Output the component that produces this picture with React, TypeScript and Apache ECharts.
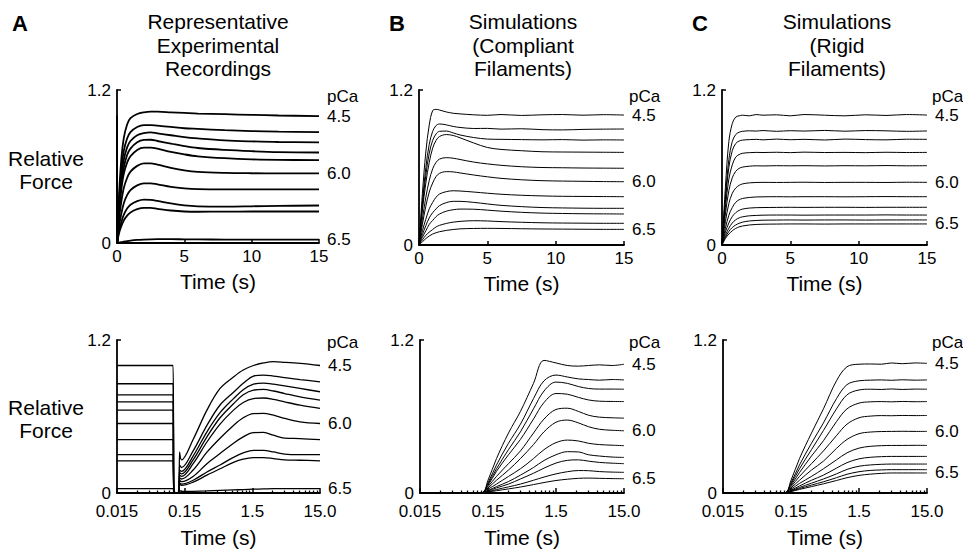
import React, { useEffect, useRef } from "react";
import * as echarts from "echarts";

const FONT = '"Liberation Sans", Arial, Helvetica, sans-serif';

// ---------- Top row: linear time (s) ----------
const T_A_TOP = [0, 0.04, 0.12, 0.3, 0.5, 0.75, 1, 1.5, 2, 2.5, 3, 4, 5, 6, 8, 10, 12, 15];
const A_TOP: number[][] = [
  [1.0, 0.02, 0.3, 0.63, 0.82, 0.93, 0.98, 1.012, 1.025, 1.03, 1.03, 1.025, 1.02, 1.015, 1.01, 1.005, 1.0, 0.995],
  [0.87, 0.02, 0.26, 0.54, 0.72, 0.82, 0.87, 0.91, 0.925, 0.925, 0.92, 0.91, 0.9, 0.895, 0.885, 0.878, 0.873, 0.869],
  [0.79, 0.02, 0.24, 0.49, 0.65, 0.75, 0.8, 0.845, 0.862, 0.867, 0.86, 0.845, 0.83, 0.82, 0.805, 0.797, 0.792, 0.79],
  [0.71, 0.02, 0.22, 0.44, 0.59, 0.69, 0.74, 0.79, 0.808, 0.81, 0.8, 0.78, 0.76, 0.745, 0.73, 0.72, 0.713, 0.71],
  [0.65, 0.02, 0.2, 0.4, 0.54, 0.63, 0.68, 0.73, 0.748, 0.748, 0.74, 0.715, 0.695, 0.68, 0.665, 0.656, 0.652, 0.65],
  [0.545, 0.01, 0.16, 0.31, 0.43, 0.51, 0.56, 0.605, 0.625, 0.625, 0.615, 0.59, 0.57, 0.558, 0.55, 0.547, 0.546, 0.546],
  [0.42, 0.01, 0.11, 0.22, 0.31, 0.375, 0.415, 0.452, 0.468, 0.468, 0.46, 0.44, 0.428, 0.422, 0.42, 0.42, 0.42, 0.42],
  [0.3, 0.01, 0.08, 0.155, 0.22, 0.27, 0.3, 0.328, 0.34, 0.338, 0.33, 0.31, 0.295, 0.288, 0.286, 0.288, 0.291, 0.294],
  [0.25, 0.01, 0.065, 0.125, 0.175, 0.215, 0.24, 0.265, 0.275, 0.275, 0.268, 0.255, 0.247, 0.245, 0.246, 0.247, 0.247, 0.247],
  [0.03, 0, 0.002, 0.006, 0.01, 0.015, 0.019, 0.024, 0.027, 0.029, 0.03, 0.03, 0.029, 0.028, 0.027, 0.027, 0.026, 0.026],
];

const T_SIM_TOP = [0, 0.25, 0.5, 0.75, 1, 1.25, 1.5, 2, 2.5, 3, 4, 5, 6, 7.5, 9, 10.5, 12, 13.5, 15];
const B_TOP: number[][] = [
  [0, 0.4, 0.72, 0.93, 1.04, 1.05, 1.045, 1.03, 1.02, 1.015, 1.008, 1.004, 1.01, 1.003, 1.008, 1.01, 1.005, 1.009, 1.006],
  [0, 0.33, 0.6, 0.78, 0.88, 0.925, 0.937, 0.93, 0.918, 0.91, 0.902, 0.903, 0.897, 0.9, 0.893, 0.891, 0.895, 0.897, 0.898],
  [0, 0.3, 0.54, 0.71, 0.81, 0.86, 0.88, 0.882, 0.868, 0.852, 0.832, 0.82, 0.818, 0.816, 0.814, 0.816, 0.812, 0.814, 0.813],
  [0, 0.27, 0.48, 0.64, 0.75, 0.81, 0.84, 0.855, 0.848, 0.83, 0.79, 0.755, 0.74, 0.73, 0.722, 0.72, 0.719, 0.718, 0.717],
  [0, 0.2, 0.37, 0.5, 0.59, 0.64, 0.665, 0.676, 0.672, 0.662, 0.642, 0.628, 0.617, 0.606, 0.6, 0.598, 0.596, 0.595, 0.594],
  [0, 0.16, 0.3, 0.41, 0.48, 0.53, 0.555, 0.568, 0.566, 0.558, 0.542, 0.528, 0.516, 0.505, 0.498, 0.495, 0.493, 0.491, 0.49],
  [0, 0.11, 0.2, 0.28, 0.33, 0.37, 0.395, 0.413, 0.42, 0.418, 0.41, 0.401, 0.393, 0.385, 0.38, 0.377, 0.376, 0.375, 0.374],
  [0, 0.08, 0.15, 0.21, 0.25, 0.28, 0.305, 0.328, 0.338, 0.338, 0.33, 0.318, 0.307, 0.297, 0.29, 0.287, 0.285, 0.284, 0.284],
  [0, 0.06, 0.11, 0.16, 0.19, 0.22, 0.24, 0.262, 0.273, 0.278, 0.277, 0.27, 0.262, 0.253, 0.247, 0.244, 0.242, 0.241, 0.24],
  [0, 0.04, 0.075, 0.1, 0.12, 0.14, 0.152, 0.167, 0.177, 0.183, 0.188, 0.186, 0.181, 0.176, 0.172, 0.17, 0.169, 0.168, 0.168],
  [0, 0.025, 0.05, 0.07, 0.085, 0.095, 0.103, 0.113, 0.12, 0.125, 0.128, 0.129, 0.128, 0.126, 0.124, 0.123, 0.122, 0.121, 0.121],
];
const C_TOP: number[][] = [
  [0, 0.45, 0.8, 0.94, 0.99, 1.0, 1.005, 1.0, 1.01, 1.005, 1.008, 1.0, 1.01, 1.005, 1.0, 1.008, 1.003, 1.01, 1.006],
  [0, 0.37, 0.66, 0.8, 0.855, 0.873, 0.88, 0.884, 0.882, 0.886, 0.88, 0.885, 0.882, 0.887, 0.881, 0.886, 0.884, 0.88, 0.883],
  [0, 0.34, 0.6, 0.73, 0.785, 0.805, 0.812, 0.816, 0.818, 0.814, 0.82, 0.815, 0.818, 0.813, 0.82, 0.816, 0.814, 0.819, 0.818],
  [0, 0.29, 0.51, 0.62, 0.68, 0.7, 0.71, 0.715, 0.717, 0.716, 0.718, 0.715, 0.719, 0.716, 0.717, 0.715, 0.718, 0.716, 0.717],
  [0, 0.24, 0.42, 0.52, 0.57, 0.593, 0.603, 0.61, 0.613, 0.612, 0.614, 0.613, 0.614, 0.612, 0.614, 0.613, 0.615, 0.613, 0.614],
  [0, 0.18, 0.32, 0.4, 0.44, 0.462, 0.473, 0.481, 0.484, 0.485, 0.484, 0.485, 0.486, 0.484, 0.485, 0.485, 0.484, 0.486, 0.485],
  [0, 0.13, 0.23, 0.29, 0.33, 0.35, 0.36, 0.368, 0.372, 0.373, 0.374, 0.373, 0.374, 0.374, 0.373, 0.374, 0.375, 0.374, 0.374],
  [0, 0.1, 0.17, 0.22, 0.25, 0.268, 0.278, 0.286, 0.289, 0.29, 0.291, 0.292, 0.291, 0.292, 0.292, 0.291, 0.292, 0.292, 0.292],
  [0, 0.075, 0.13, 0.17, 0.195, 0.21, 0.218, 0.226, 0.229, 0.231, 0.232, 0.232, 0.231, 0.232, 0.232, 0.232, 0.233, 0.232, 0.232],
  [0, 0.06, 0.105, 0.135, 0.155, 0.168, 0.177, 0.186, 0.19, 0.192, 0.193, 0.194, 0.193, 0.194, 0.194, 0.193, 0.194, 0.194, 0.194],
  [0, 0.05, 0.085, 0.11, 0.128, 0.14, 0.147, 0.155, 0.159, 0.161, 0.162, 0.163, 0.163, 0.162, 0.163, 0.163, 0.163, 0.163, 0.163],
];

// ---------- Bottom row: log time (s) ----------
const T_A_BOT = [0.015, 0.101, 0.104, 0.124, 0.126, 0.135, 0.2, 0.32, 0.5, 0.79, 1.1, 1.56, 2.2, 3.08, 4.5, 7.6, 15];
const A_BOT: number[][] = [
  [1.0, 1.0, 0, 0, 0.32, 0.26, 0.42, 0.65, 0.82, 0.91, 0.965, 1.0, 1.02, 1.03, 1.025, 1.016, 1.0],
  [0.857, 0.857, 0, 0, 0.22, 0.2, 0.33, 0.53, 0.69, 0.79, 0.86, 0.917, 0.925, 0.917, 0.905, 0.89, 0.872],
  [0.77, 0.77, 0, 0, 0.18, 0.17, 0.29, 0.48, 0.63, 0.74, 0.81, 0.854, 0.862, 0.854, 0.84, 0.82, 0.794],
  [0.715, 0.715, 0, 0, 0.16, 0.15, 0.26, 0.44, 0.59, 0.7, 0.77, 0.807, 0.812, 0.8, 0.78, 0.754, 0.728],
  [0.65, 0.65, 0, 0, 0.14, 0.13, 0.23, 0.4, 0.54, 0.65, 0.71, 0.741, 0.745, 0.735, 0.715, 0.689, 0.663],
  [0.545, 0.545, 0, 0, 0.12, 0.11, 0.18, 0.32, 0.43, 0.53, 0.59, 0.623, 0.625, 0.61, 0.585, 0.558, 0.545],
  [0.419, 0.419, 0, 0, 0.1, 0.09, 0.13, 0.23, 0.31, 0.39, 0.44, 0.474, 0.475, 0.453, 0.43, 0.427, 0.419],
  [0.301, 0.301, 0, 0, 0.08, 0.07, 0.1, 0.165, 0.22, 0.28, 0.315, 0.335, 0.335, 0.322, 0.305, 0.301, 0.301],
  [0.252, 0.252, 0, 0, 0.07, 0.06, 0.085, 0.14, 0.19, 0.24, 0.265, 0.277, 0.278, 0.27, 0.26, 0.257, 0.252],
  [0.034, 0.034, 0, 0, 0.02, 0.012, 0.013, 0.016, 0.02, 0.024, 0.027, 0.03, 0.032, 0.034, 0.034, 0.034, 0.034],
];

const T_SIM_BOT = [0.015, 0.12, 0.15, 0.2, 0.3, 0.45, 0.7, 1.0, 1.5, 2.2, 3.2, 4.5, 6.5, 10, 15];
const B_BOT: number[][] = [
  [0, 0, 0.1, 0.27, 0.47, 0.64, 0.86, 1.04, 1.02, 1.0, 0.995, 1.0, 1.005, 1.0, 1.01],
  [0, 0, 0.08, 0.22, 0.39, 0.54, 0.74, 0.88, 0.925, 0.91, 0.895, 0.89, 0.885, 0.89, 0.887],
  [0, 0, 0.07, 0.19, 0.34, 0.48, 0.66, 0.8, 0.87, 0.86, 0.835, 0.82, 0.815, 0.815, 0.814],
  [0, 0, 0.06, 0.17, 0.3, 0.42, 0.58, 0.71, 0.78, 0.775, 0.75, 0.73, 0.72, 0.718, 0.717],
  [0, 0, 0.05, 0.13, 0.23, 0.33, 0.47, 0.58, 0.655, 0.665, 0.64, 0.61, 0.595, 0.59, 0.587],
  [0, 0, 0.04, 0.1, 0.18, 0.27, 0.38, 0.48, 0.555, 0.572, 0.55, 0.52, 0.5, 0.492, 0.488],
  [0, 0, 0.03, 0.07, 0.13, 0.19, 0.27, 0.34, 0.395, 0.415, 0.408, 0.39, 0.38, 0.375, 0.371],
  [0, 0, 0.02, 0.05, 0.09, 0.14, 0.2, 0.255, 0.3, 0.324, 0.322, 0.3, 0.29, 0.282, 0.279],
  [0, 0, 0.015, 0.04, 0.07, 0.11, 0.155, 0.195, 0.235, 0.256, 0.26, 0.25, 0.24, 0.234, 0.23],
  [0, 0, 0.01, 0.027, 0.048, 0.07, 0.1, 0.125, 0.15, 0.167, 0.176, 0.175, 0.168, 0.164, 0.162],
  [0, 0, 0.007, 0.018, 0.032, 0.047, 0.066, 0.082, 0.098, 0.108, 0.115, 0.117, 0.115, 0.113, 0.112],
];
const C_BOT: number[][] = [
  [0, 0, 0.1, 0.27, 0.47, 0.66, 0.88, 0.99, 1.01, 1.012, 1.01, 1.02, 1.014, 1.02, 1.017],
  [0, 0, 0.08, 0.22, 0.39, 0.55, 0.74, 0.85, 0.88, 0.885, 0.887, 0.884, 0.888, 0.885, 0.887],
  [0, 0, 0.07, 0.19, 0.34, 0.49, 0.66, 0.77, 0.808, 0.814, 0.812, 0.816, 0.812, 0.815, 0.814],
  [0, 0, 0.06, 0.16, 0.29, 0.41, 0.56, 0.66, 0.705, 0.715, 0.717, 0.715, 0.718, 0.716, 0.717],
  [0, 0, 0.05, 0.13, 0.23, 0.33, 0.45, 0.54, 0.59, 0.603, 0.607, 0.606, 0.608, 0.607, 0.608],
  [0, 0, 0.04, 0.1, 0.18, 0.25, 0.35, 0.42, 0.465, 0.478, 0.482, 0.483, 0.484, 0.483, 0.483],
  [0, 0, 0.03, 0.075, 0.13, 0.19, 0.26, 0.315, 0.352, 0.366, 0.371, 0.373, 0.373, 0.374, 0.373],
  [0, 0, 0.022, 0.055, 0.1, 0.14, 0.195, 0.238, 0.268, 0.28, 0.285, 0.287, 0.287, 0.287, 0.287],
  [0, 0, 0.017, 0.043, 0.077, 0.11, 0.15, 0.185, 0.21, 0.22, 0.225, 0.227, 0.227, 0.227, 0.227],
  [0, 0, 0.014, 0.035, 0.062, 0.088, 0.12, 0.147, 0.167, 0.177, 0.181, 0.183, 0.183, 0.183, 0.183],
  [0, 0, 0.011, 0.028, 0.05, 0.072, 0.098, 0.12, 0.138, 0.148, 0.154, 0.157, 0.157, 0.157, 0.157],
];

// pCa labels at the end of curves
const PCA_A = ["4.5", "", "", "", "", "6.0", "", "", "", "6.5"];
const PCA_SIM = ["4.5", "", "", "", "", "6.0", "", "", "", "", "6.5"];

// axis ticks
const X_LIN_TICKS = [0, 5, 10, 15];
const X_LOG_TICKS = [0.015, 0.15, 1.5, 15];
const X_LOG_LABELS = ["0.015", "0.15", "1.5", "15.0"];
const X_LOG_MINOR = [
  0.03, 0.045, 0.06, 0.075, 0.09, 0.105, 0.12, 0.135,
  0.3, 0.45, 0.6, 0.75, 0.9, 1.05, 1.2, 1.35,
  3, 4.5, 6, 7.5, 9, 10.5, 12, 13.5,
];

const TITLES = [
  "Representative\nExperimental\nRecordings",
  "Simulations\n(Compliant\nFilaments)",
  "Simulations\n(Rigid\nFilaments)",
];
const PANEL_LETTERS = ["A", "B", "C"];

const GRIDS = [
  { left: 117, top: 90, width: 202, height: 153 },
  { left: 419, top: 90, width: 205, height: 155 },
  { left: 722, top: 90, width: 205, height: 155 },
  { left: 117, top: 340, width: 203, height: 153 },
  { left: 420, top: 340, width: 204, height: 153 },
  { left: 723, top: 340, width: 204, height: 153 },
];

function buildOption() {
  const axisLine = { show: true, onZero: false, lineStyle: { color: "#000", width: 1.8 } };
  const labelStyle = { color: "#000", fontSize: 17, fontFamily: FONT, lineHeight: 14 };
  const nameStyle = { color: "#000", fontSize: 21, fontFamily: FONT };

  const xAxis: any[] = [];
  const yAxis: any[] = [];
  for (let g = 0; g < 3; g++) {
    xAxis.push({
      type: "value",
      gridIndex: g,
      min: X_LIN_TICKS[0],
      max: X_LIN_TICKS[X_LIN_TICKS.length - 1],
      interval: 5,
      axisLine,
      axisTick: { show: true, inside: true, length: 4, lineStyle: { color: "#000", width: 1.5 } },
      axisLabel: { ...labelStyle, margin: 6 },
      splitLine: { show: false },
      name: "Time (s)",
      nameLocation: "middle",
      nameGap: 28,
      nameTextStyle: nameStyle,
    });
  }
  for (let g = 3; g < 6; g++) {
    xAxis.push({
      type: "log",
      logBase: 10,
      gridIndex: g,
      min: X_LOG_TICKS[0],
      max: X_LOG_TICKS[X_LOG_TICKS.length - 1],
      axisLine,
      axisTick: {
        show: true, inside: true, length: 5, customValues: X_LOG_TICKS,
        lineStyle: { color: "#000", width: 1.5 },
      },
      axisLabel: {
        ...labelStyle,
        margin: 11,
        customValues: X_LOG_TICKS,
        formatter: (v: number) => {
          let best = 0;
          let bd = Infinity;
          X_LOG_TICKS.forEach((t, i) => {
            const d = Math.abs(Math.log10(v) - Math.log10(t));
            if (d < bd) { bd = d; best = i; }
          });
          return X_LOG_LABELS[best];
        },
      },
      splitLine: { show: false },
      name: "Time (s)",
      nameLocation: "middle",
      nameGap: 34,
      nameTextStyle: nameStyle,
    });
  }
  for (let g = 3; g < 6; g++) {
    xAxis.push({
      type: "log",
      logBase: 10,
      gridIndex: g,
      position: "bottom",
      min: X_LOG_TICKS[0],
      max: X_LOG_TICKS[X_LOG_TICKS.length - 1],
      axisLine: { show: false },
      axisTick: {
        show: true, inside: true, length: 2.5, customValues: X_LOG_MINOR,
        lineStyle: { color: "#000", width: 1.3 },
      },
      axisLabel: { show: false },
      splitLine: { show: false },
    });
  }
  for (let g = 0; g < 6; g++) {
    yAxis.push({
      type: "value",
      gridIndex: g,
      min: 0,
      max: 1.2,
      interval: 1.2,
      axisLine,
      axisTick: { show: true, inside: true, length: 4, lineStyle: { color: "#000", width: 1.5 } },
      axisLabel: { ...labelStyle, margin: 6, formatter: (v: number) => (v === 0 ? "0" : "1.2") },
      splitLine: { show: false },
    });
  }

  const mk = (times: number[], curves: number[][], labels: string[], idx: number, width: number) =>
    curves.map((vals, k) => ({
      type: "line",
      xAxisIndex: idx,
      yAxisIndex: idx,
      data: vals.map((v, i) => [times[i], v]),
      showSymbol: false,
      symbol: "none",
      smooth: 0.35,
      silent: true,
      lineStyle: { color: "#000", width },
      endLabel: labels[k]
        ? { show: true, formatter: labels[k], distance: 8, color: "#000", fontSize: 17, fontFamily: FONT }
        : { show: false },
    }));

  const series = [
    ...mk(T_A_TOP, A_TOP, PCA_A, 0, 1.8),
    ...mk(T_SIM_TOP, B_TOP, PCA_SIM, 1, 1.0),
    ...mk(T_SIM_TOP, C_TOP, PCA_SIM, 2, 1.0),
    ...mk(T_A_BOT, A_BOT, PCA_A, 3, 1.3),
    ...mk(T_SIM_BOT, B_BOT, PCA_SIM, 4, 1.0),
    ...mk(T_SIM_BOT, C_BOT, PCA_SIM, 5, 1.0),
  ];

  const txt = (x: number, y: number, text: string, size: number, extra: any = {}) => ({
    type: "text",
    x,
    y,
    silent: true,
    style: {
      text,
      fill: "#000",
      fontSize: size,
      fontFamily: FONT,
      align: "center",
      verticalAlign: "middle",
      ...extra,
    },
  });

  const titleX = [218, 523, 837];
  const letterX = [20, 397, 700];
  const pcaX = [327, 629, 932];
  const graphic: any[] = [];
  for (let i = 0; i < 3; i++) {
    graphic.push(txt(titleX[i], 45, TITLES[i], 21, { lineHeight: 23.5 }));
    graphic.push(txt(letterX[i], 23, PANEL_LETTERS[i], 22, { fontWeight: "bold" }));
    graphic.push(txt(pcaX[i], 96, "pCa", 17, { align: "left" }));
    graphic.push(txt(pcaX[i], 342, "pCa", 17, { align: "left" }));
  }
  graphic.push(txt(46, 170, "Relative\nForce", 21, { lineHeight: 23.5 }));
  graphic.push(txt(46, 419, "Relative\nForce", 21, { lineHeight: 23.5 }));

  return {
    animation: false,
    backgroundColor: "#fff",
    grid: GRIDS.map((g) => ({ ...g, containLabel: false })),
    xAxis,
    yAxis,
    series,
    graphic,
  };
}

export default function App() {
  const ref = useRef<HTMLDivElement>(null);
  useEffect(() => {
    document.body.style.margin = "0";
    const chart = echarts.init(ref.current!, null, { renderer: "svg" });
    chart.setOption(buildOption() as any);
    return () => chart.dispose();
  }, []);
  return <div ref={ref} style={{ width: 963, height: 555 }} />;
}
